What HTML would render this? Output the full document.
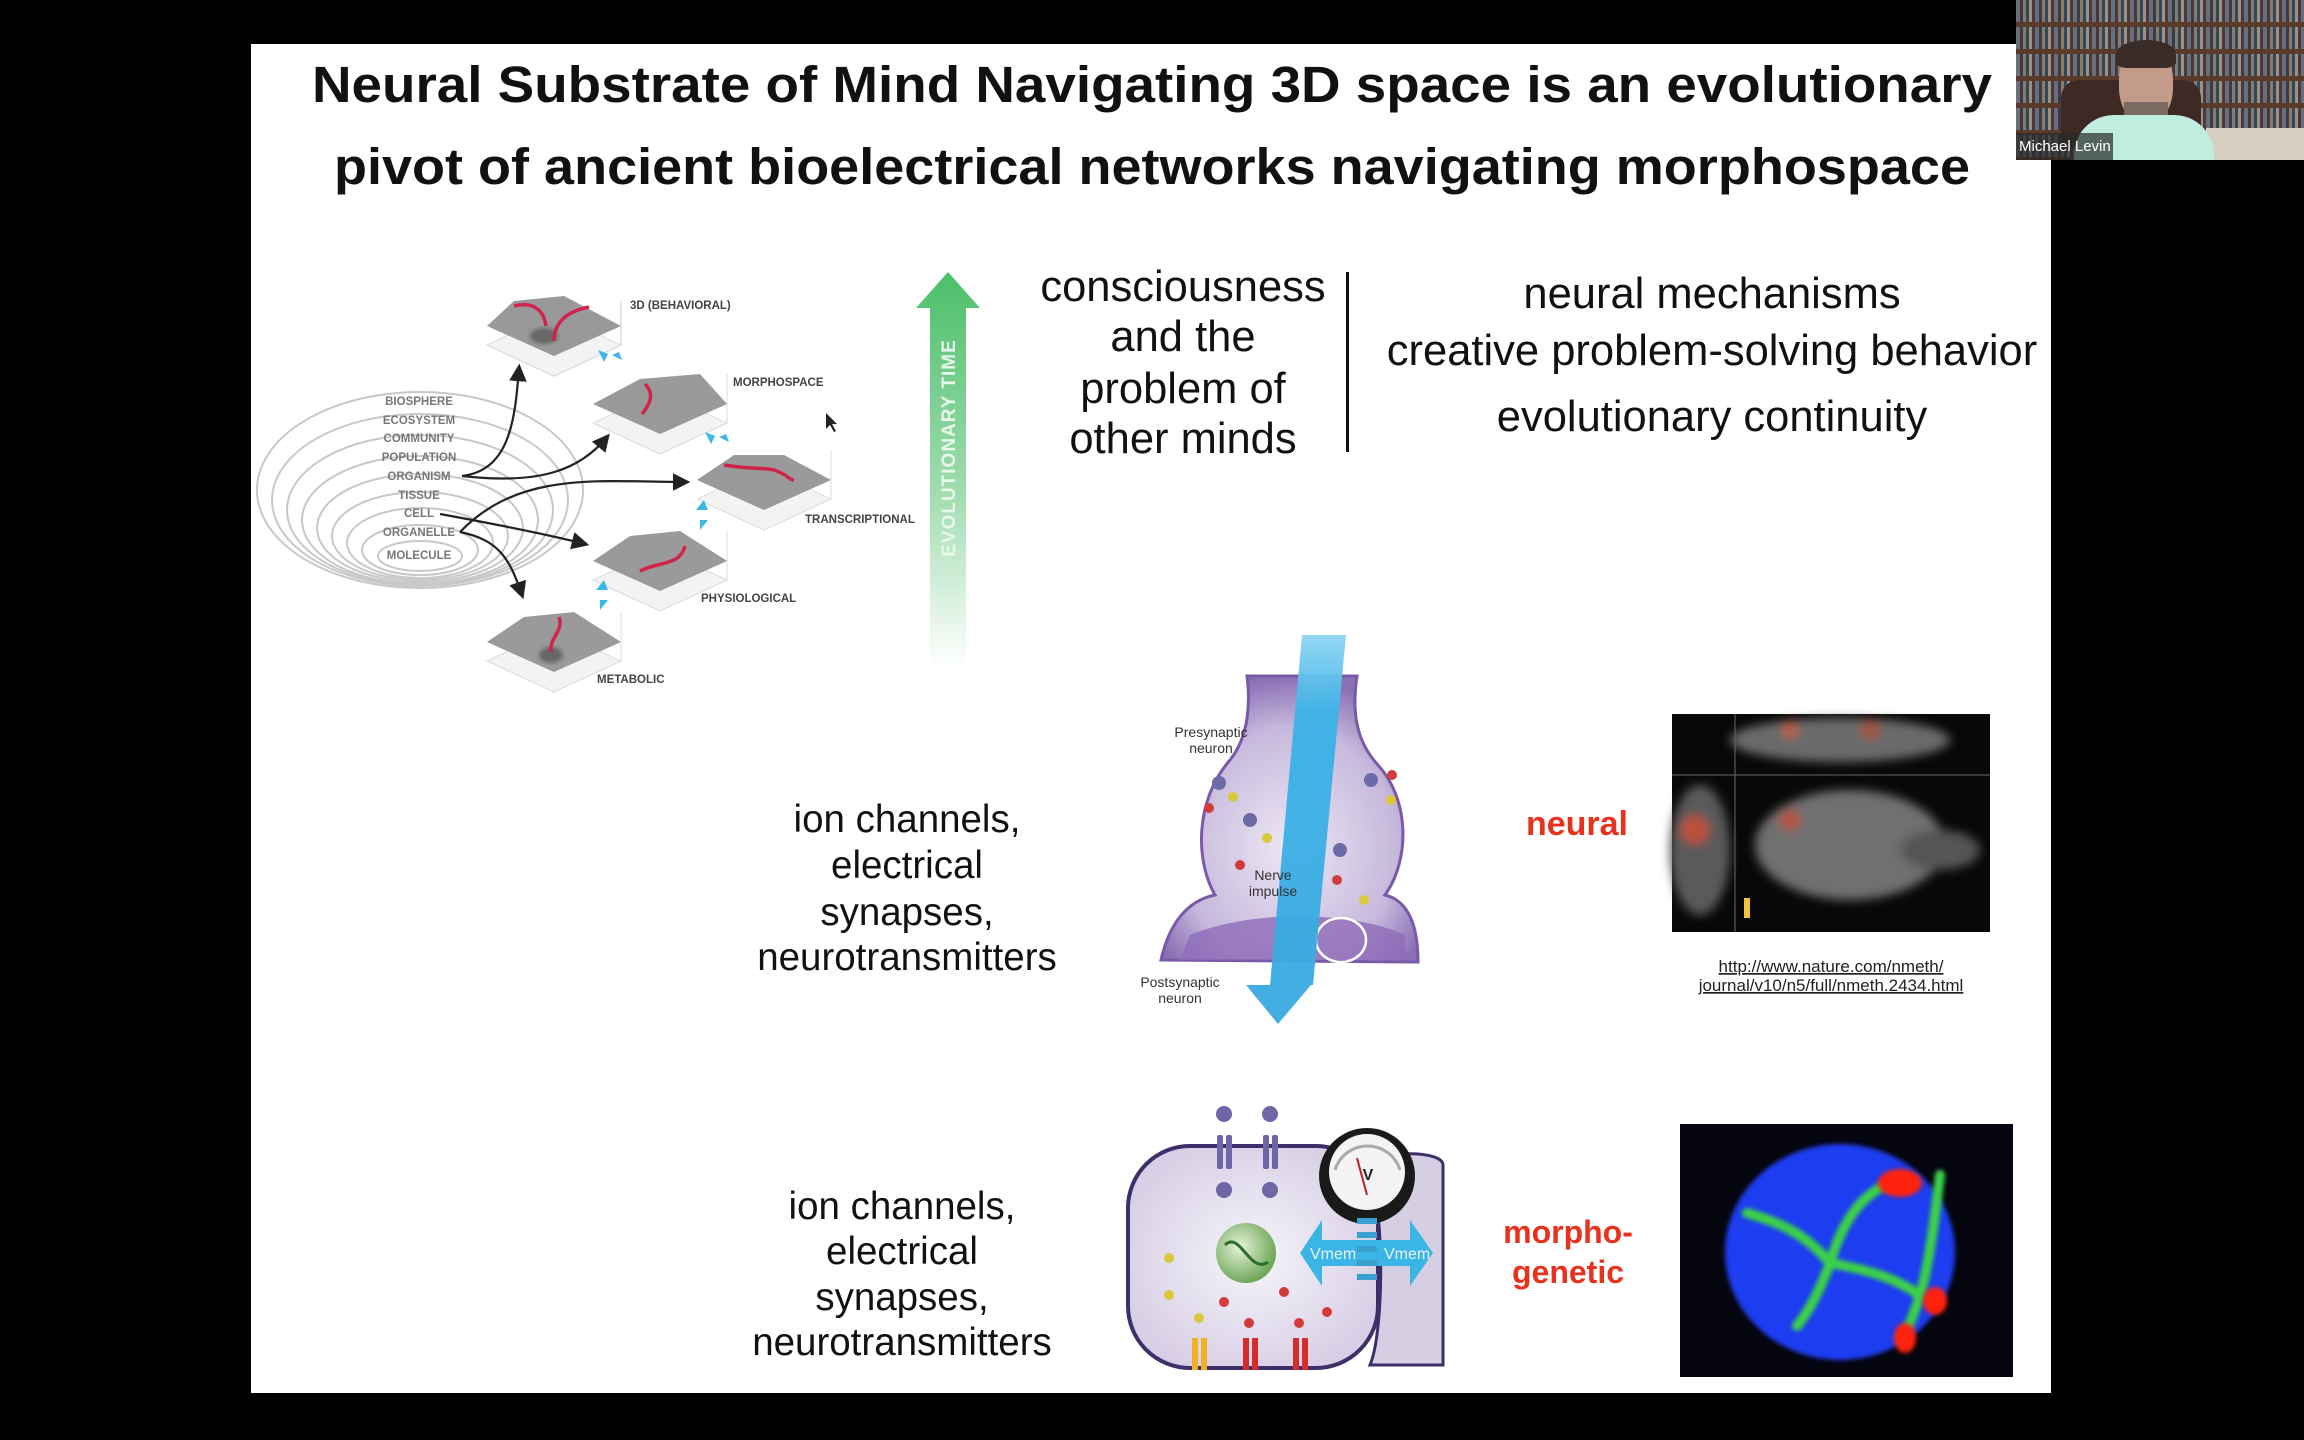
<!DOCTYPE html>
<html><head><meta charset="utf-8"><style>
html,body{margin:0;padding:0;background:#000;}
body{width:2304px;height:1440px;overflow:hidden;position:relative;font-family:"Liberation Sans",sans-serif;}
svg{position:absolute;left:0;top:0;}
</style></head><body>
<svg width="2304" height="1440" viewBox="0 0 2304 1440" xmlns="http://www.w3.org/2000/svg" font-family="Liberation Sans, sans-serif">
<defs>
<linearGradient id="ga" x1="0" y1="0" x2="0" y2="1">
<stop offset="0" stop-color="#4cbf6a"/><stop offset="0.55" stop-color="#9fdcae"/><stop offset="1" stop-color="#ffffff"/>
</linearGradient>
<linearGradient id="beam" x1="0" y1="0" x2="0" y2="1">
<stop offset="0" stop-color="#8fd4f2"/><stop offset="0.2" stop-color="#3bb3e8"/><stop offset="1" stop-color="#3aa9e0"/>
</linearGradient>
<radialGradient id="bulb" cx="0.5" cy="0.6" r="0.6">
<stop offset="0" stop-color="#ece8f4"/><stop offset="0.7" stop-color="#c6b8dc"/><stop offset="1" stop-color="#8a6fb5"/>
</radialGradient>
<radialGradient id="cellg" cx="0.5" cy="0.5" r="0.7">
<stop offset="0" stop-color="#f6f4fa"/><stop offset="1" stop-color="#cfc6e0"/>
</radialGradient>
<radialGradient id="nuc" cx="0.4" cy="0.4" r="0.6">
<stop offset="0" stop-color="#e6f3d8"/><stop offset="1" stop-color="#6fa85a"/>
</radialGradient>
<filter id="bl"><feGaussianBlur stdDeviation="5"/></filter>
<filter id="bl2"><feGaussianBlur stdDeviation="2"/></filter>
<marker id="ah" markerWidth="8" markerHeight="8" refX="6" refY="4" orient="auto"><path d="M0,0 L8,4 L0,8 z" fill="#222"/></marker>
</defs>

<rect x="251" y="44" width="1800" height="1349" fill="#fff"/>

<g font-weight="bold" font-size="51" fill="#111" text-anchor="middle">
<text x="1152" y="102" textLength="1680" lengthAdjust="spacingAndGlyphs">Neural Substrate of Mind Navigating 3D space is an evolutionary</text>
<text x="1152" y="184" textLength="1636" lengthAdjust="spacingAndGlyphs">pivot of ancient bioelectrical networks navigating morphospace</text>
</g>

<g fill="none" stroke="#c8c8c8" stroke-width="2">
<ellipse cx="420" cy="490" rx="163" ry="98"/>
<ellipse cx="420" cy="500" rx="148" ry="86"/>
<ellipse cx="420" cy="510" rx="133" ry="75"/>
<ellipse cx="420" cy="520" rx="118" ry="64"/>
<ellipse cx="420" cy="528" rx="103" ry="54"/>
<ellipse cx="420" cy="536" rx="88" ry="44"/>
<ellipse cx="420" cy="543" rx="73" ry="35"/>
<ellipse cx="420" cy="550" rx="58" ry="25"/>
<ellipse cx="420" cy="556" rx="42" ry="15"/>
</g>
<g font-size="11.5" fill="#777" text-anchor="middle" font-weight="bold">
<text x="419" y="405">BIOSPHERE</text><text x="419" y="424">ECOSYSTEM</text>
<text x="419" y="442">COMMUNITY</text><text x="419" y="461">POPULATION</text>
<text x="419" y="480">ORGANISM</text><text x="419" y="499">TISSUE</text>
<text x="419" y="517">CELL</text><text x="419" y="536">ORGANELLE</text>
<text x="419" y="559">MOLECULE</text>
</g>

<g>
<g transform="translate(554,331)">
<path d="M-67,14 L0,45 L67,14 L67,-30" fill="none" stroke="#ddd" stroke-width="1.5"/>
<path d="M-67,14 L0,45 L67,14 L0,-17z" fill="#f3f3f3" stroke="#ddd"/>
<path d="M-67,-5 L0,25 L67,-5 L10,-35 L-40,-30z" fill="#999"/>
<ellipse cx="-10" cy="5" rx="14" ry="8" fill="#666" filter="url(#bl2)"/>
<path d="M-40,-25 C-20,-30 -10,-20 -8,-5 M0,10 C0,-10 15,-20 35,-24" stroke="#d0244a" stroke-width="3.5" fill="none"/>
</g>
<g transform="translate(660,409)">
<path d="M-67,14 L0,45 L67,14 L67,-35" fill="none" stroke="#ddd"/>
<path d="M-67,14 L0,45 L67,14 L0,-17z" fill="#f3f3f3" stroke="#ddd"/>
<path d="M-67,-5 L0,25 L67,-5 L40,-35 L-20,-30z" fill="#9a9a9a"/>
<path d="M-15,-25 C-5,-15 -10,-5 -18,5" stroke="#d0244a" stroke-width="3.5" fill="none"/>
</g>
<g transform="translate(764,485)">
<path d="M-67,14 L0,45 L67,14 L67,-35" fill="none" stroke="#ddd"/>
<path d="M-67,14 L0,45 L67,14 L0,-17z" fill="#f3f3f3" stroke="#ddd"/>
<path d="M-67,-5 L0,25 L67,-5 L20,-30 L-30,-30z" fill="#9a9a9a"/>
<path d="M-40,-20 C-10,-15 0,-18 10,-15 C25,-10 25,-5 30,-5" stroke="#d0244a" stroke-width="3.5" fill="none"/>
</g>
<g transform="translate(660,566)">
<path d="M-67,14 L0,45 L67,14 L67,-35" fill="none" stroke="#ddd"/>
<path d="M-67,14 L0,45 L67,14 L0,-17z" fill="#f3f3f3" stroke="#ddd"/>
<path d="M-67,-5 L0,25 L67,-5 L20,-35 L-30,-30z" fill="#9a9a9a"/>
<path d="M-20,5 C0,-5 20,0 25,-20" stroke="#d0244a" stroke-width="3.5" fill="none"/>
</g>
<g transform="translate(554,647)">
<path d="M-67,14 L0,45 L67,14 L67,-35" fill="none" stroke="#ddd"/>
<path d="M-67,14 L0,45 L67,14 L0,-17z" fill="#f3f3f3" stroke="#ddd"/>
<path d="M-67,-5 L0,25 L67,-5 L20,-35 L-30,-30z" fill="#9a9a9a"/>
<ellipse cx="-3" cy="8" rx="12" ry="8" fill="#666" filter="url(#bl2)"/>
<path d="M5,-30 C10,-15 -5,-10 -3,5" stroke="#d0244a" stroke-width="3.5" fill="none"/>
</g>
</g>
<g fill="#3cb8e6">
<path d="M598,350 l10,4 l-4,8z M612,355 l10,5 l-3,-8z"/>
<path d="M705,432 l10,4 l-4,8z M719,437 l10,5 l-3,-8z"/>
<path d="M696,510 l8,-10 l4,10z M700,530 l8,-10 l-8,0z"/>
<path d="M596,590 l8,-10 l4,10z M600,610 l8,-10 l-8,0z"/>
</g>
<g font-size="11.5" fill="#444" font-weight="bold">
<text x="630" y="309">3D (BEHAVIORAL)</text>
<text x="733" y="386">MORPHOSPACE</text>
<text x="805" y="523">TRANSCRIPTIONAL</text>
<text x="701" y="602">PHYSIOLOGICAL</text>
<text x="597" y="683">METABOLIC</text>
</g>
<g stroke="#222" stroke-width="2.2" fill="none" marker-end="url(#ah)">
<path d="M462,476 C510,470 515,420 519,368"/>
<path d="M462,476 C540,485 580,470 607,437"/>
<path d="M460,532 C520,470 600,482 686,482"/>
<path d="M460,532 C500,540 510,560 522,595"/>
<path d="M440,514 C500,525 550,535 585,544"/>
</g>
<path d="M826,413 l0,16 l4,-4 l4,7 l2,-1 l-4,-7 l5,0z" fill="#222"/>

<path d="M948,272 L980,308 L966,308 L966,669 L930,669 L930,308 L916,308z" fill="url(#ga)"/>
<text transform="translate(955,448) rotate(-90)" font-size="19" font-weight="bold" fill="#e8f7ec" text-anchor="middle" letter-spacing="1">EVOLUTIONARY TIME</text>

<g font-size="43.5" fill="#111" text-anchor="middle">
<text x="1183" y="301">consciousness</text>
<text x="1183" y="351">and the</text>
<text x="1183" y="403">problem of</text>
<text x="1183" y="453">other minds</text>
<text x="1712" y="308">neural mechanisms</text>
<text x="1712" y="365">creative problem-solving behavior</text>
<text x="1712" y="431">evolutionary continuity</text>
</g>
<rect x="1346" y="272" width="3" height="180" fill="#111"/>

<g>
<path d="M1161,960 C1170,920 1190,900 1215,895 C1195,860 1195,800 1230,760 C1250,735 1250,700 1247,676 L1357,676 C1352,710 1355,740 1378,765 C1410,800 1410,860 1385,895 C1405,900 1418,920 1418,962 z" fill="url(#bulb)" stroke="#7a5aa8" stroke-width="3"/>
<path d="M1190,935 C1250,910 1350,910 1405,935 L1405,960 L1180,960z" fill="#8e6cb8" opacity="0.8"/>
<ellipse cx="1341" cy="940" rx="25" ry="22" fill="none" stroke="#fff" stroke-width="2.5"/>
<g fill="#6d6aa8"><circle cx="1219" cy="783" r="7"/><circle cx="1371" cy="780" r="7"/><circle cx="1250" cy="820" r="7"/><circle cx="1340" cy="850" r="7"/></g>
<g fill="#d23b3b"><circle cx="1209" cy="808" r="5"/><circle cx="1392" cy="775" r="5"/><circle cx="1337" cy="880" r="5"/><circle cx="1240" cy="865" r="5"/></g>
<g fill="#d9c93a"><circle cx="1233" cy="797" r="5"/><circle cx="1391" cy="800" r="5"/><circle cx="1364" cy="900" r="5"/><circle cx="1267" cy="838" r="5"/></g>
<path d="M1302,635 L1346,635 L1313,985 L1311,985 L1278,1024 L1246,985 L1270,985z" fill="url(#beam)" opacity="0.95"/>
<g font-size="14" fill="#333" text-anchor="middle">
<text x="1211" y="737">Presynaptic</text><text x="1211" y="753">neuron</text>
<text x="1273" y="880">Nerve</text><text x="1273" y="896">impulse</text>
<text x="1180" y="987">Postsynaptic</text><text x="1180" y="1003">neuron</text>
</g>
</g>

<g font-size="38.5" fill="#111" text-anchor="middle">
<text x="907" y="832">ion channels,</text>
<text x="907" y="878">electrical</text>
<text x="907" y="925">synapses,</text>
<text x="907" y="970">neurotransmitters</text>
<text x="902" y="1219">ion channels,</text>
<text x="902" y="1264">electrical</text>
<text x="902" y="1310">synapses,</text>
<text x="902" y="1355">neurotransmitters</text>
</g>
<text x="1577" y="835" font-size="34" font-weight="bold" fill="#e8321e" text-anchor="middle">neural</text>
<g font-size="32" font-weight="bold" fill="#e8321e" text-anchor="middle">
<text x="1568" y="1243">morpho-</text><text x="1568" y="1283">genetic</text>
</g>

<rect x="1672" y="714" width="318" height="218" fill="#080808"/>
<line x1="1672" y1="775" x2="1990" y2="775" stroke="#666" stroke-width="1"/>
<line x1="1735" y1="714" x2="1735" y2="932" stroke="#666" stroke-width="1"/>
<g filter="url(#bl)">
<ellipse cx="1840" cy="740" rx="110" ry="22" fill="#6a6a6a"/>
<ellipse cx="1850" cy="845" rx="95" ry="55" fill="#707070"/>
<ellipse cx="1940" cy="850" rx="40" ry="20" fill="#555"/>
<ellipse cx="1700" cy="850" rx="30" ry="65" fill="#5a5a5a"/>
<circle cx="1695" cy="830" r="14" fill="#c0503a"/>
<circle cx="1790" cy="820" r="10" fill="#b8503a"/>
<circle cx="1790" cy="730" r="8" fill="#c06040"/>
<circle cx="1870" cy="730" r="10" fill="#a05540"/>
</g>
<rect x="1744" y="898" width="6" height="20" fill="#f5c040"/>
<g font-size="17" fill="#222" text-anchor="middle" text-decoration="underline">
<text x="1831" y="972">http://www.nature.com/nmeth/</text>
<text x="1831" y="991">journal/v10/n5/full/nmeth.2434.html</text>
</g>

<g>
<path d="M1365,1165 C1380,1150 1443,1150 1443,1165 L1443,1365 L1370,1365 C1385,1330 1385,1190 1365,1165z" fill="#d6cfe4" stroke="#3c2f6a" stroke-width="3"/>
<rect x="1128" y="1146" width="250" height="222" rx="62" fill="url(#cellg)" stroke="#3c2f6a" stroke-width="4"/>
<circle cx="1367" cy="1176" r="48" fill="#1a1a1a"/>
<circle cx="1367" cy="1172" r="38" fill="#f4f4f4"/>
<path d="M1335,1170 A34,34 0 0 1 1400,1170" fill="none" stroke="#aaa" stroke-width="3"/>
<line x1="1367" y1="1195" x2="1357" y2="1158" stroke="#b22" stroke-width="2"/>
<text x="1368" y="1180" font-size="16" fill="#222" text-anchor="middle" font-weight="bold">V</text>
<circle cx="1246" cy="1253" r="30" fill="url(#nuc)"/>
<path d="M1225,1245 C1240,1230 1250,1275 1268,1262" stroke="#2d6d2d" stroke-width="3" fill="none"/>
<path d="M1300,1253 L1322,1220 L1322,1240 L1410,1240 L1410,1220 L1433,1253 L1410,1286 L1410,1266 L1322,1266 L1322,1286z" fill="#3ab5e6"/>
<g fill="#e8f6fd" font-size="16"><text x="1310" y="1259">Vmem</text><text x="1384" y="1259">Vmem</text></g>
<g fill="#3aa0d0"><rect x="1357" y="1218" width="20" height="6"/><rect x="1357" y="1232" width="20" height="6"/><rect x="1357" y="1246" width="20" height="6"/><rect x="1357" y="1260" width="20" height="6"/><rect x="1357" y="1274" width="20" height="6"/></g>
<g fill="#6f66a8"><circle cx="1224" cy="1114" r="8"/><circle cx="1270" cy="1114" r="8"/><circle cx="1224" cy="1190" r="8"/><circle cx="1270" cy="1190" r="8"/>
<rect x="1217" y="1135" width="6" height="34" rx="2"/><rect x="1226" y="1135" width="6" height="34" rx="2"/><rect x="1263" y="1135" width="6" height="34" rx="2"/><rect x="1272" y="1135" width="6" height="34" rx="2"/></g>
<rect x="1192" y="1338" width="6" height="32" fill="#f2b024"/><rect x="1201" y="1338" width="6" height="32" fill="#f2b024"/>
<rect x="1243" y="1338" width="6" height="32" fill="#d92b2b"/><rect x="1252" y="1338" width="6" height="32" fill="#d92b2b"/>
<rect x="1293" y="1338" width="6" height="32" fill="#d92b2b"/><rect x="1302" y="1338" width="6" height="32" fill="#d92b2b"/>
<g fill="#d9c93a"><circle cx="1169" cy="1258" r="5"/><circle cx="1169" cy="1295" r="5"/><circle cx="1199" cy="1318" r="5"/></g>
<g fill="#d23b3b"><circle cx="1224" cy="1302" r="5"/><circle cx="1284" cy="1292" r="5"/><circle cx="1327" cy="1312" r="5"/><circle cx="1249" cy="1323" r="5"/><circle cx="1299" cy="1323" r="5"/></g>
</g>

<rect x="1680" y="1124" width="333" height="253" fill="#050510"/>
<ellipse cx="1840" cy="1252" rx="115" ry="108" fill="#1e3cf0" filter="url(#bl2)"/>
<g stroke="#3ad04a" stroke-width="10" fill="none" stroke-linecap="round" filter="url(#bl2)">
<path d="M1747,1213 C1790,1225 1810,1240 1830,1263"/>
<path d="M1830,1263 C1840,1230 1855,1200 1885,1185"/>
<path d="M1830,1263 C1820,1290 1810,1310 1797,1326"/>
<path d="M1830,1263 C1870,1270 1900,1280 1920,1296"/>
<path d="M1920,1296 C1930,1260 1935,1215 1940,1175"/>
<path d="M1920,1296 C1915,1310 1910,1325 1903,1336"/>
</g>
<g fill="#ff2010" filter="url(#bl2)">
<ellipse cx="1900" cy="1183" rx="22" ry="14"/>
<ellipse cx="1935" cy="1301" rx="12" ry="14"/>
<ellipse cx="1905" cy="1338" rx="11" ry="15"/>
</g>
</svg>
<div style="position:absolute;left:2016px;top:0;width:288px;height:160px;overflow:hidden;background:repeating-linear-gradient(90deg,#6a6e7a 0 4px,#3c3a44 4px 7px,#8a7a6a 7px 10px,#2e4a5a 10px 13px,#a09080 13px 16px,#4a3a40 16px 19px);">
<div style="position:absolute;left:0;top:0;width:288px;height:160px;background:repeating-linear-gradient(180deg,transparent 0 22px,#5a3a28 22px 27px);"></div>
<div style="position:absolute;left:190px;top:128px;width:98px;height:32px;background:#d8cfc0;"></div>
<div style="position:absolute;left:45px;top:80px;width:140px;height:70px;background:#3e2a24;border-radius:18px 18px 0 0;"></div>
<div style="position:absolute;left:103px;top:45px;width:54px;height:78px;background:#c49a88;border-radius:45%;"></div>
<div style="position:absolute;left:100px;top:40px;width:60px;height:28px;background:#3a2c26;border-radius:50% 50% 20% 20%;"></div>
<div style="position:absolute;left:108px;top:102px;width:44px;height:22px;background:#7a6a62;border-radius:0 0 50% 50%;"></div>
<div style="position:absolute;left:58px;top:115px;width:140px;height:50px;background:#bfeede;border-radius:40px 40px 0 0;"></div>
<div style="position:absolute;left:0;top:133px;width:94px;height:27px;background:rgba(40,40,40,0.7);color:#fff;font:15px 'Liberation Sans',sans-serif;line-height:27px;padding-left:3px;">Michael Levin</div>
</div>
</body></html>
